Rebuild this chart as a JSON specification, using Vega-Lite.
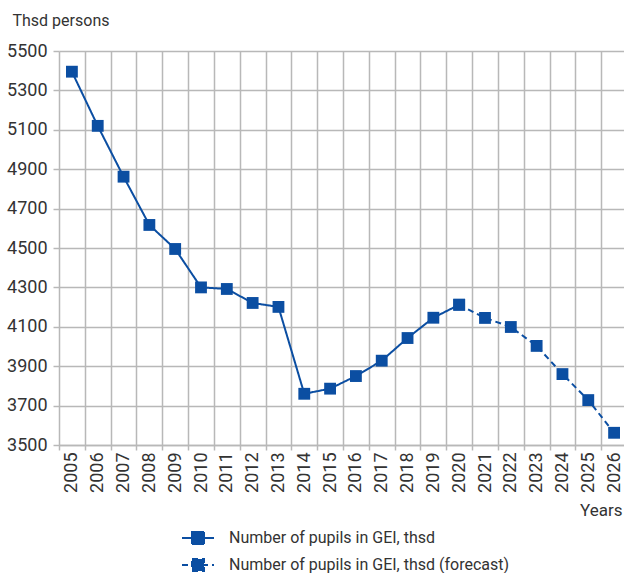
{
  "$schema": "https://vega.github.io/schema/vega-lite/v6.json",
  "width": 568,
  "height": 394,
  "autosize": {"type": "none"},
  "padding": {"left": 59, "top": 51, "right": 0, "bottom": 128},
  "background": "white",
  "config": {
    "font": "Roboto",
    "view": {"stroke": null},
    "axis": {
      "labelColor": "#333333",
      "titleColor": "#333333",
      "gridColor": "#b8b8b8",
      "gridWidth": 1.5,
      "tickColor": "#b8b8b8",
      "tickWidth": 1.5,
      "domainColor": "#b8b8b8",
      "domainWidth": 1.5,
      "titleFontWeight": "normal"
    }
  },
  "data": {
    "values": [
      {"year": "2005", "value": 5395, "series": "Number of pupils in GEI, thsd"},
      {"year": "2006", "value": 5120, "series": "Number of pupils in GEI, thsd"},
      {"year": "2007", "value": 4862, "series": "Number of pupils in GEI, thsd"},
      {"year": "2008", "value": 4617, "series": "Number of pupils in GEI, thsd"},
      {"year": "2009", "value": 4495, "series": "Number of pupils in GEI, thsd"},
      {"year": "2010", "value": 4300, "series": "Number of pupils in GEI, thsd"},
      {"year": "2011", "value": 4292, "series": "Number of pupils in GEI, thsd"},
      {"year": "2012", "value": 4221, "series": "Number of pupils in GEI, thsd"},
      {"year": "2013", "value": 4201, "series": "Number of pupils in GEI, thsd"},
      {"year": "2014", "value": 3760, "series": "Number of pupils in GEI, thsd"},
      {"year": "2015", "value": 3786, "series": "Number of pupils in GEI, thsd"},
      {"year": "2016", "value": 3850, "series": "Number of pupils in GEI, thsd"},
      {"year": "2017", "value": 3928, "series": "Number of pupils in GEI, thsd"},
      {"year": "2018", "value": 4043, "series": "Number of pupils in GEI, thsd"},
      {"year": "2019", "value": 4146, "series": "Number of pupils in GEI, thsd"},
      {"year": "2020", "value": 4212, "series": "Number of pupils in GEI, thsd"},
      {"year": "2020", "value": 4212, "series": "Number of pupils in GEI, thsd (forecast)"},
      {"year": "2021", "value": 4145, "series": "Number of pupils in GEI, thsd (forecast)"},
      {"year": "2022", "value": 4099, "series": "Number of pupils in GEI, thsd (forecast)"},
      {"year": "2023", "value": 4003, "series": "Number of pupils in GEI, thsd (forecast)"},
      {"year": "2024", "value": 3860, "series": "Number of pupils in GEI, thsd (forecast)"},
      {"year": "2025", "value": 3728, "series": "Number of pupils in GEI, thsd (forecast)"},
      {"year": "2026", "value": 3562, "series": "Number of pupils in GEI, thsd (forecast)"}
    ]
  },
  "encoding": {
    "x": {
      "field": "year",
      "type": "ordinal",
      "scale": {"type": "band", "paddingInner": 0, "paddingOuter": 0},
      "axis": {
        "title": "Years",
        "titleFontSize": 17,
        "titleAlign": "right",
        "titleAnchor": null,
        "titleX": 563,
        "titleY": 70,
        "titleBaseline": "alphabetic",
        "tickBand": "extent",
        "grid": true,
        "ticks": true,
        "tickSize": 5,
        "labelPadding": 2,
        "labelAngle": -90,
        "labelFontSize": 18,
        "domain": true
      }
    },
    "y": {
      "field": "value",
      "type": "quantitative",
      "scale": {"domain": [3500, 5500], "nice": false, "zero": false},
      "axis": {
        "title": "Thsd persons",
        "titleFontSize": 16,
        "titleAngle": 0,
        "titleAlign": "left",
        "titleAnchor": null,
        "titleX": -47,
        "titleY": -26,
        "titleBaseline": "alphabetic",
        "values": [3500, 3700, 3900, 4100, 4300, 4500, 4700, 4900, 5100, 5300, 5500],
        "grid": true,
        "domain": false,
        "tickSize": 6,
        "labelPadding": 6,
        "labelFontSize": 18,
        "format": "d"
      }
    }
  },
  "layer": [
    {
      "mark": {"type": "line", "color": "#0b4ea2", "strokeWidth": 2},
      "encoding": {
        "strokeDash": {
          "field": "series",
          "type": "nominal",
          "scale": {
            "domain": ["Number of pupils in GEI, thsd", "Number of pupils in GEI, thsd (forecast)"],
            "range": [[1, 0], [6, 4]]
          },
          "legend": {
            "title": null,
            "orient": "none",
            "legendX": 128,
            "legendY": 476,
            "direction": "vertical",
            "padding": 0,
            "symbolType": "M-1.6,0H1.6M-0.6,-0.6H0.6V0.6H-0.6Z",
            "symbolSize": 400,
            "symbolStrokeWidth": 2,
            "symbolFillColor": "#0b4ea2",
            "symbolStrokeColor": "#0b4ea2",
            "symbolOpacity": 1,
            "labelOffset": 20,
            "labelFontSize": 16,
            "labelColor": "#333333",
            "labelLimit": 400,
            "rowPadding": 6,
            "encode": {
              "symbols": {
                "enter": {
                  "fill": {"value": "#0b4ea2"},
                  "fillOpacity": {"value": 1}
                },
                "update": {
                  "fill": {"value": "#0b4ea2"},
                  "fillOpacity": {"value": 1},
                  "stroke": {"value": "#0b4ea2"},
                  "opacity": {"value": 1}
                }
              }
            }
          }
        }
      }
    },
    {
      "mark": {"type": "point", "shape": "square", "filled": true, "size": 140, "color": "#0b4ea2", "opacity": 1}
    }
  ]
}
